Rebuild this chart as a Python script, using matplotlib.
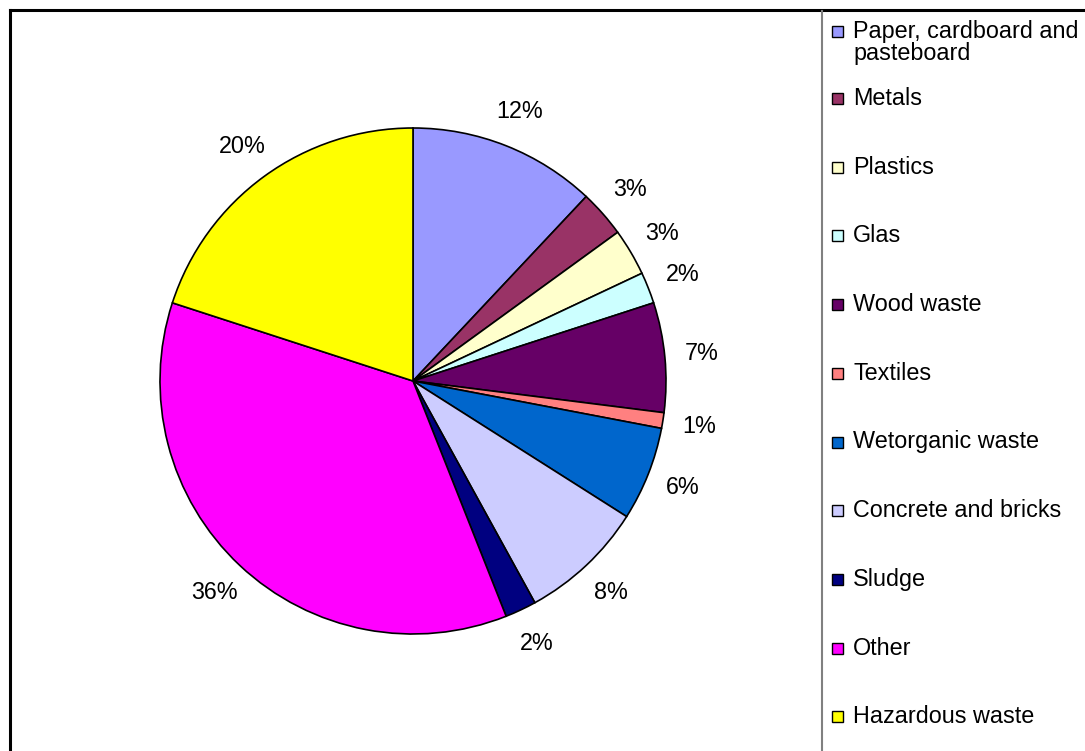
import matplotlib
matplotlib.use("Agg")
import matplotlib.pyplot as plt
from matplotlib.lines import Line2D
from matplotlib.patches import Rectangle
import numpy as np

plt.rcParams['font.family'] = ['Liberation Sans', 'DejaVu Sans']

# Waste composition (percent of total)
categories = ["Paper, cardboard and\npasteboard", "Metals", "Plastics", "Glas",
              "Wood waste", "Textiles", "Wetorganic waste", "Concrete and bricks",
              "Sludge", "Other", "Hazardous waste"]
shares = [12, 3, 3, 2, 7, 1, 6, 8, 2, 36, 20]
colors = ["#9999FF", "#993366", "#FFFFCC", "#CCFFFF", "#660066", "#FF8080",
          "#0066CC", "#CCCCFF", "#000080", "#FF00FF", "#FFFF00"]

W, H = 1085, 751
FS = 16.8
fig = plt.figure(figsize=(W / 100, H / 100), dpi=100)
fig.patch.set_facecolor("white")

# Pie axes: 600x600 px box centred on the pie centre
cx, cy, box, rad = 413, 381, 600, 253
ax = fig.add_axes([(cx - box / 2) / W, (H - cy - box / 2) / H, box / W, box / H])

labels = [f"{v}%" for v in shares]
wedges, texts = ax.pie(shares, colors=colors, startangle=90, counterclock=False,
                       radius=1.0, labels=labels, labeldistance=1.145,
                       wedgeprops=dict(edgecolor="black", linewidth=1.2),
                       textprops=dict(fontsize=FS, color="black"))
for t in texts:
    t.set_horizontalalignment("center")
    t.set_verticalalignment("center")

lim = box / 2 / rad
ax.set_xlim(-lim, lim)
ax.set_ylim(-lim, lim)
ax.set_aspect("equal")
ax.axis("off")

# Chart frame
fig.add_artist(Line2D([10 / W, 1], [1 - 10 / H, 1 - 10 / H], transform=fig.transFigure,
                      color="black", lw=2.2))
fig.add_artist(Line2D([10 / W, 10 / W], [0, 1 - 10 / H], transform=fig.transFigure,
                      color="black", lw=2.2))
fig.add_artist(Line2D([822 / W, 822 / W], [0, 1 - 11 / H], transform=fig.transFigure,
                      color="#808080", lw=1.5))

# Legend
first_base, base0, step, line_h = 38, 105, 68.7, 22
for i, (name, col) in enumerate(zip(categories, colors)):
    base = first_base if i == 0 else base0 + (i - 1) * step
    lines = name.split("\n")
    for j, line in enumerate(lines):
        fig.text(853 / W, 1 - (base + j * line_h) / H, line, fontsize=FS,
                 va="baseline", ha="left")
    mc = base - 6.5
    fig.add_artist(Rectangle((832 / W, 1 - (mc + 5.5) / H), 11 / W, 11 / H,
                             transform=fig.transFigure, facecolor=col,
                             edgecolor="black", lw=1.0))

fig.savefig("out.png", dpi=100)
